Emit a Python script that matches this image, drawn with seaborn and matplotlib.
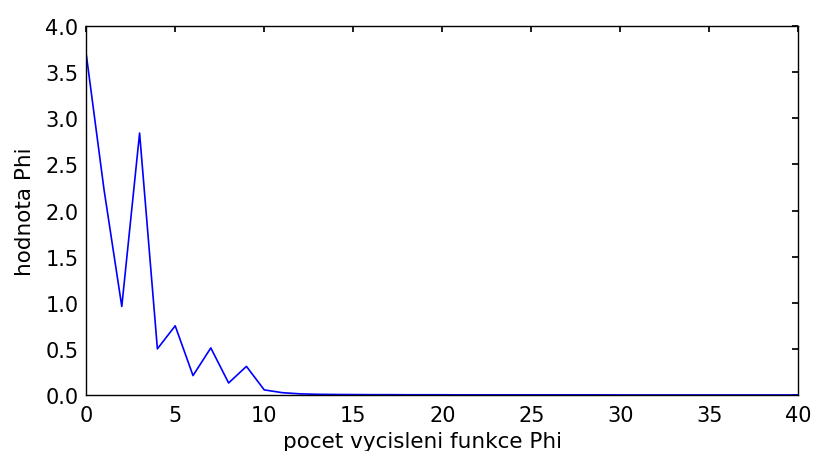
import matplotlib
matplotlib.use("Agg")
import matplotlib.pyplot as plt
import seaborn as sns

# Phi value after each evaluation step
evaluations = list(range(41))
phi_values = [3.70, 2.23, 0.96, 2.84, 0.50, 0.75, 0.21, 0.51, 0.13, 0.31,
              0.055, 0.025, 0.012, 0.007, 0.005, 0.004, 0.003, 0.003, 0.002, 0.002,
              0.002, 0.001, 0.001, 0.001, 0.001, 0.001, 0.001, 0.001, 0.001, 0.001,
              0.0, 0.0, 0.0, 0.0, 0.0, 0.0, 0.0, 0.0, 0.0, 0.0, 0.0]

x_ticks = [0, 5, 10, 15, 20, 25, 30, 35, 40]
y_ticks = [0.0, 0.5, 1.0, 1.5, 2.0, 2.5, 3.0, 3.5, 4.0]

sns.set_theme(style="white")
plt.rcParams.update({
    "font.family": ["DejaVu Sans"],
    "xtick.direction": "in",
    "ytick.direction": "in",
    "xtick.top": True,
    "ytick.right": True,
    "xtick.major.size": 4,
    "ytick.major.size": 4,
    "xtick.color": "black",
    "ytick.color": "black",
    "axes.labelcolor": "black",
    "axes.edgecolor": "black",
    "axes.linewidth": 1.0,
})

fig = plt.figure(figsize=(8.13, 4.52), dpi=100)
ax = fig.add_axes([0.106, 0.124, 0.876, 0.816])

sns.lineplot(x=evaluations, y=phi_values, ax=ax, color="#0000ff", linewidth=1.2)

ax.set_xlim(0, 40)
ax.set_ylim(0, 4.0)
ax.set_xticks(x_ticks)
ax.set_yticks(y_ticks)
ax.set_xticklabels([str(t) for t in x_ticks])
ax.set_yticklabels([f"{t:.1f}" for t in y_ticks])
ax.tick_params(labelsize=15, labelcolor="black")
ax.tick_params(axis="x", pad=7)
ax.tick_params(axis="y", pad=5.5)
ax.set_xlabel("pocet vycisleni funkce Phi", fontsize=15.5)
ax.set_ylabel("hodnota Phi", fontsize=15.5)
ax.xaxis.set_label_coords(0.4726, -0.0976)
ax.yaxis.set_label_coords(-0.072, 0.5)

fig.savefig("out.png", dpi=100)
